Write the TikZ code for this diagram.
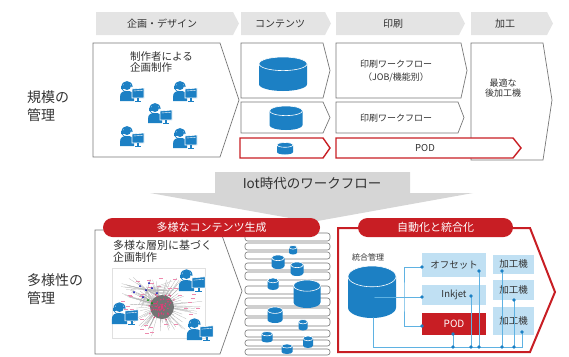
\documentclass[tikz,border=0pt]{standalone}
\usepackage{fontspec}
\setmainfont{Noto Sans CJK JP}
\usetikzlibrary{calc}

\definecolor{hdrgray}{RGB}{228,228,228}
\definecolor{arrowgray}{RGB}{214,214,214}
\definecolor{linegray}{RGB}{120,120,120}
\definecolor{ink}{RGB}{50,50,50}
\definecolor{podred}{RGB}{200,30,36}
\definecolor{cylblue}{RGB}{28,128,196}
\definecolor{paleblue}{RGB}{192,224,243}
\definecolor{wireblue}{RGB}{95,178,226}
\definecolor{netpink}{RGB}{226,60,120}

% database drum: centre x, centre y, width, height
\newcommand\dbcyl[4]{%
  \fill[cylblue] (#1-#3/2,#2+#4*0.3) arc[start angle=180,end angle=360,x radius=#3*0.5pt,y radius=#4*0.2pt]
    -- (#1+#3/2,#2-#4*0.3) arc[start angle=0,end angle=180,x radius=#3*0.5pt,y radius=#4*0.2pt] -- cycle;
  \draw[white,line width=0.6] (#1,#2-#4*0.3) ellipse[x radius=#3*0.5pt,y radius=#4*0.2pt];
}

% operator with headset at a monitor: x, y, scale
\newcommand\operator[3]{%
  \begin{scope}[shift={(#1,#2)},scale=#3]
    \fill[cylblue] (-12,11) -- (-12,7) .. controls (-12,2) and (-9,1) .. (-5,1)
      .. controls (-1,1) and (2,2) .. (2,7) -- (2,11) -- cycle;
    \fill[cylblue] (-5,-4) circle[radius=4];
    \draw[cylblue,line width=1.2] (-10,-3) .. controls (-10,-10) and (0,-10) .. (0,-3);
    \fill[cylblue] (-11,-4) rectangle (-8.5,-1);
    \draw[cylblue,line width=0.7] (-10,-1) .. controls (-10,1) and (-7,1.5) .. (-5,1.5);
    \filldraw[fill=cylblue,draw=white,line width=0.6] (0,-1) -- (12,-2) -- (12,8) -- (0,8) -- cycle;
    \draw[white,line width=0.4] (1.5,1) -- (10.5,0.3);
    \fill[cylblue] (5,8) rectangle (7,10.5);
    \fill[cylblue] (3,10.5) rectangle (9,11.5);
  \end{scope}
}

\begin{document}
\begin{tikzpicture}[x=1pt,y=-1pt,
    hdr/.style={font=\fontsize{10}{12}\selectfont,text=ink,inner sep=0},
    box/.style={draw=linegray,line width=0.7,fill=white},
    redbox/.style={draw=podred,line width=1.4,fill=white},
    txt/.style={font=\fontsize{9}{10.5}\selectfont,text=ink,align=center,inner sep=0},
    side/.style={font=\fontsize{14}{18}\selectfont,text=ink,align=left,inner sep=0,anchor=west},
    banner/.style={fill=podred,rounded corners=9.5pt,text=white,font=\fontsize{11}{13}\selectfont,
      minimum height=19pt,inner sep=0},
    unit/.style={fill=paleblue,minimum width=64pt,inner sep=0,font=\fontsize{9.5}{11}\selectfont,text=ink},
    press/.style={fill=paleblue,minimum width=41pt,inner sep=0,font=\fontsize{9.5}{11}\selectfont,text=ink},
    bar/.style={draw=linegray,line width=0.6,fill=white,rounded corners=2.5pt},
    link/.style={draw=wireblue,line width=0.8},
  ]
  \useasboundingbox (0,0) rectangle (569,356);

  % phase headers
  \fill[hdrgray] (96,12) -- (233,12) -- (239,23.5) -- (233,35) -- (96,35) -- cycle;
  \fill[hdrgray] (241,12) -- (325,12) -- (331,23.5) -- (325,35) -- (241,35) -- cycle;
  \fill[hdrgray] (336,12) -- (459,12) -- (465,23.5) -- (459,35) -- (336,35) -- cycle;
  \fill[hdrgray] (471,12) -- (547,12) -- (553,23.5) -- (547,35) -- (471,35) -- cycle;
  \node[hdr] (h-plan) at (162,23.5) {企画・デザイン};
  \node[hdr] (h-cont) at (280,23.5) {コンテンツ};
  \node[hdr] (h-print) at (393,23.5) {印刷};
  \node[hdr] (h-finish) at (505,23.5) {加工};

  % scale management
  \node[side] (scale) at (27,106) {規模の\\管理};

  \draw[box] (93,43) -- (220,43) -- (239,100) -- (220,157) -- (93,157) -- cycle;
  \node[txt,align=left,anchor=north west,font=\fontsize{10.5}{11.5}\selectfont] (plan) at (130,51) {制作者による\\企画制作};
  \operator{132}{90}{1}
  \operator{185}{90}{1}
  \operator{160}{112}{1}
  \operator{132}{135}{1}
  \operator{185}{137}{1}

  \draw[box] (241,43) -- (323,43) -- (330,70.5) -- (323,98) -- (241,98) -- cycle;
  \draw[box] (241,102) -- (323,102) -- (330,117.5) -- (323,133) -- (241,133) -- cycle;
  \draw[redbox] (240,138) -- (323,138) -- (330,148) -- (323,158) -- (240,158) -- cycle;
  \dbcyl{283}{74}{48}{34}
  \dbcyl{286}{118}{33}{24}
  \dbcyl{285}{148.5}{16}{12}

  \draw[box] (336,43) -- (461,43) -- (467,70.5) -- (461,98) -- (336,98) -- cycle;
  \draw[box] (336,102) -- (458,102) -- (464,117.5) -- (458,133) -- (336,133) -- cycle;
  \node[txt,font=\fontsize{9}{13}\selectfont] (flow-job) at (396,71.5) {印刷ワークフロー\\（JOB/機能別）};
  \node[txt] (flow) at (396,118) {印刷ワークフロー};

  \draw[box] (471,43) -- (543,43) -- (552,100) -- (543,160) -- (471,160) -- cycle;
  \node[txt] (post) at (503,88) {最適な\\後加工機};

  \draw[redbox] (336,138) -- (513,138) -- (521,148) -- (513,158) -- (336,158) -- cycle;
  \node[txt,font=\fontsize{9.5}{11}\selectfont] (pod-top) at (425,148) {POD};

  % IoT arrow
  \fill[arrowgray] (215,172) -- (410,172) -- (410,193) -- (473,193) -- (312,222)
    -- (150,193) -- (215,193) -- cycle;
  \node[inner sep=0,font=\fontsize{13.5}{15}\selectfont,text=ink] (iot) at (312,183) {Iot時代のワークフロー};

  % diversity management
  \node[side] (variety) at (27,289) {多様性の\\管理};

  \draw[box] (95,230) -- (220,230) -- (242,291) -- (220,354) -- (95,354) -- cycle;
  \node[txt,align=left,anchor=north west,font=\fontsize{11}{12.5}\selectfont] (segment) at (113,240) {多様な層別に基づく\\企画制作};

  % audience network
  \draw[black!12,line width=0.4] (112,268) rectangle (205,338);
  \pgfmathsetseed{11}
  \foreach \k in {1,...,110}{
    \pgfmathsetmacro\ang{rnd*360}
    \pgfmathsetmacro\rad{0.35+0.65*rnd}
    \draw[black!35,line width=0.2] (160,306) -- ++(\ang:{44*\rad} and {31*\rad});
  }
  \foreach \k in {1,...,40}{
    \pgfmathsetmacro\ang{rnd*360}
    \pgfmathsetmacro\rad{0.55+0.45*rnd}
    \draw[netpink!60,line width=0.35] (160,306) ++(\ang:{44*\rad} and {31*\rad}) -- ++(4,0);
  }
  \foreach \k in {1,...,40}{
    \pgfmathsetmacro\ang{rnd*360}
    \pgfmathsetmacro\rad{0.5+0.5*rnd}
    \draw[black!30,line width=0.2] (147,290) -- ++(\ang:{30*\rad} and {18*\rad});
  }
  \fill[black!55] (162,307) circle[radius=12];
  \foreach \k in {1,...,70}{
    \pgfmathsetmacro\ang{rnd*360}
    \pgfmathsetmacro\rad{14*rnd}
    \fill[netpink] (162,307) ++(\ang:\rad) circle[radius=0.8];
  }
  \foreach \p in {(140,286),(146,290),(152,288),(149,283),(134,292),(157,293),(143,297)}
    \fill[blue!70!black] \p circle[radius=1];
  \foreach \p in {(148,300),(152,303)}
    \fill[green!60!black] \p circle[radius=1];

  \operator{192}{279}{1.1}
  \operator{125}{312}{1.1}
  \operator{200}{328}{1.1}

  % content variants
  \foreach \t/\b in {233/241,243/250,252/259,263/270,272/280,286/294,298/306,308/316,318/326,330/337,340/346,349/355}
    \draw[bar] (245,\t) rectangle (330,\b);
  \dbcyl{293}{250}{8}{9}
  \dbcyl{278}{262}{13}{14}
  \dbcyl{297}{269}{13}{14}
  \dbcyl{273}{284}{11}{12}
  \dbcyl{307}{294}{27}{28}
  \dbcyl{275}{315}{15}{16}
  \dbcyl{303}{325}{9}{11}
  \dbcyl{267}{337}{11}{11}
  \dbcyl{308}{342}{10}{12}
  \dbcyl{287}{349}{11}{10}

  \node[banner,minimum width=217pt] (gen) at (211.5,227.5) {多様なコンテンツ生成};

  % automated, integrated production
  \draw[podred,line width=2] (338,228) -- (530,228) -- (555,292) -- (530,352) -- (338,352) -- cycle;
  \node[banner,minimum width=155pt] (auto) at (435.5,227.5) {自動化と統合化};

  \node[inner sep=0,font=\fontsize{8}{9}\selectfont,text=ink] (hub-label) at (368,257) {統合管理};
  \dbcyl{372}{292}{48}{52}

  \node[unit,minimum height=24pt] (off) at (454,265) {オフセット};
  \node[unit,minimum height=20pt] (ink) at (454,295) {Inkjet};
  \node[unit,minimum height=22pt,fill=podred,text=white,font=\fontsize{10}{11}\selectfont] (pod) at (454,324) {POD};
  \node[press,minimum height=19pt] (k1) at (513.5,264) {加工機};
  \node[press,minimum height=20pt] (k2) at (513.5,290) {加工機};
  \node[press,minimum height=28pt] (k3) at (513.5,321) {加工機};

  \coordinate (db-mid) at (373,297);
  \coordinate (db-foot) at (373,316);
  \coordinate (split) at (404,297);
  \coordinate (off-in) at (422,267);
  \coordinate (ink-in) at (422,297);
  \coordinate (pod-in) at (422,326);
  \coordinate (pod-out) at (453,334);
  \coordinate (ink-out) at (471,296);
  \coordinate (off-out) at (479,271);
  \coordinate (k1-out) at (502,271);
  \coordinate (k2-out) at (514,300);
  \coordinate (k3-out) at (522,332);
  \coordinate (bus) at (373,347);

  \draw[link] (db-mid) -- (ink-in);
  \draw[link] (off-in) -| (split) |- (pod-in);
  \draw[link] (db-foot) -- (bus) -| (k3-out);
  \foreach \t in {pod-out,ink-out,off-out,k1-out,k2-out}
    \draw[link] (\t) -- (\t |- bus);

  \foreach \p in {db-mid,db-foot,off-in,ink-in,pod-in,pod-out,ink-out,off-out,k1-out,k2-out,k3-out}
    \fill[cylblue] (\p) circle[radius=1.8];
  \foreach \t in {pod-out,ink-out,off-out,k1-out,k2-out}
    \fill[cylblue] (\t |- bus) circle[radius=1.8];
\end{tikzpicture}
\end{document}
